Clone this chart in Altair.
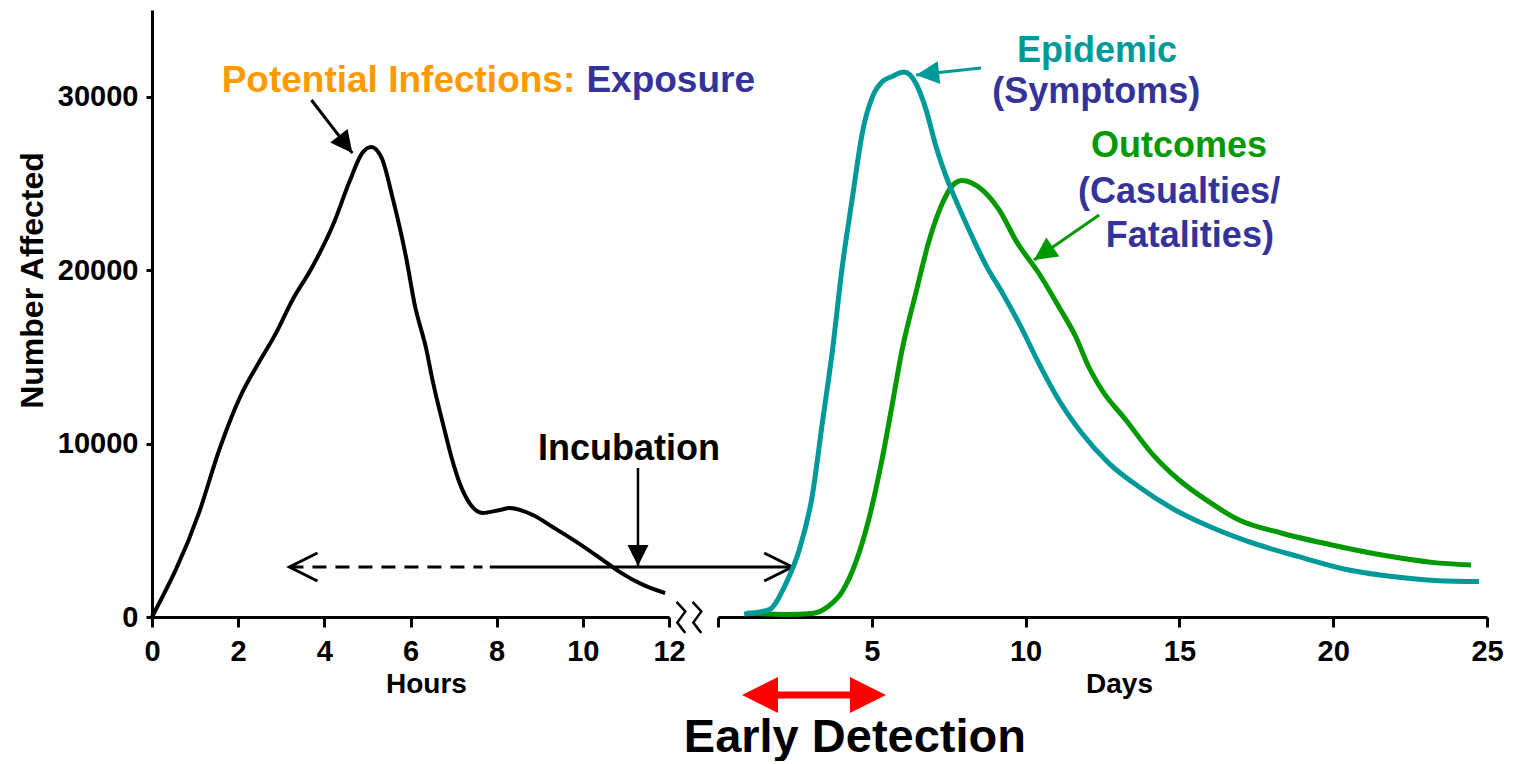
import altair as alt
import pandas as pd

FONT = "Liberation Sans, Arial, sans-serif"
TEAL = "#009999"
GREEN = "#009900"
NAVY = "#333399"
ORANGE = "#FF9900"
RED = "#FF0000"
BLACK = "#000000"

# ---------------- data ----------------
hours = [0, 1.09, 1.56, 2.09, 2.42, 2.88, 3.26, 3.72, 4.23, 4.58, 4.88, 5.09, 5.33, 5.58,
         5.91, 6.09, 6.37, 6.51, 6.79, 6.95, 7.14, 7.37, 7.67, 8.07, 8.3, 8.84, 9.3, 9.86,
         10.4, 10.86, 11.4, 11.91]
exposure = [0, 6000, 9630, 12920, 14420, 16380, 18280, 20180, 22780, 25080, 26750, 27100,
            26470, 24220, 20580, 18100, 15400, 13670, 10780, 9230, 7730, 6570, 6000, 6170,
            6280, 5880, 5190, 4320, 3400, 2590, 1850, 1380]

epi_days = [0.85, 1.66, 2.2, 2.63, 3.06, 3.39, 3.72, 4.04, 4.37, 4.7, 5.07, 5.33, 5.66, 6.05,
            6.44, 6.76, 7.08, 7.4, 7.84, 8.27, 8.7, 9.24, 9.79, 10.43, 11.08, 11.83, 12.71,
            13.68, 14.76, 15.87, 17.25, 18.88, 20.51, 22.14, 23.44, 24.74]
epidemic = [170, 420, 1900, 3800, 6950, 11160, 15370, 20200, 24200, 28000, 30200, 30850,
            31170, 31420, 30750, 29270, 27170, 25480, 23590, 21900, 20320, 18700, 16930,
            14630, 12510, 10590, 8860, 7510, 6270, 5300, 4340, 3480, 2710, 2290, 2090, 2040]

out_days = [0.95, 2.2, 3.06, 3.6, 4.04, 4.48, 4.91, 5.33, 5.66, 5.98, 6.44, 6.86, 7.28, 7.61,
            7.93, 8.58, 9.14, 9.72, 10.43, 11.08, 11.63, 12.05, 12.48, 13.26, 14.1, 14.99,
            15.87, 16.94, 18.34, 19.96, 21.59, 23.21, 24.48]
outcomes = [230, 150, 200, 630, 1470, 3160, 5690, 9060, 12210, 15370, 18740, 21690, 23800,
            24850, 25170, 24640, 23470, 21600, 19820, 17890, 16160, 14430, 13090, 11360, 9440,
            7900, 6750, 5590, 4830, 4150, 3570, 3150, 3000]

hour_ticks = [0, 2, 4, 6, 8, 10, 12]
day_ticks = [0, 5, 10, 15, 20, 25]
y_ticks = [0, 10000, 20000, 30000]

# annotation texts (left panel: hours / right panel: days)
lt_label = ["Potential Infections:", "Exposure", "Incubation"]
lt_x = [5.72, 12.04, 11.07]
lt_y = [30270, 30270, 9050]
lt_color = [ORANGE, NAVY, BLACK]
lt_size = [37, 37, 36]

rt_label = ["Epidemic", "(Symptoms)", "Outcomes", "(Casualties/", "Fatalities)", "Early Detection"]
rt_x = [12.32, 12.3, 14.99, 14.99, 15.34, 4.45]
rt_y = [32000, 29640, 26520, 23900, 21330, -7784]
rt_color = [TEAL, NAVY, GREEN, NAVY, NAVY, BLACK]
rt_size = [36, 36, 36, 36, 36, 47]

# arrows: shafts
l_rule_x = [3.70, 11.28, 7.84]
l_rule_x2 = [4.65, 11.28, 14.86]
l_rule_y = [29810, 8591, 2883]
l_rule_y2 = [26750, 2940, 2883]
l_rule_w = [3, 2.5, 3]
dash_x, dash_x2, dash_y = [3.19], [7.67], [2883]

r_rule_x = [8.55, 12.39, 1.9]
r_rule_x2 = [6.44, 10.27, 4.35]
r_rule_y = [31650, 23180, -4498]
r_rule_y2 = [31250, 20580, -4498]
r_rule_c = [TEAL, GREEN, RED]
r_rule_w = [3, 3, 7]

# arrow heads
l_head_x = [4.65, 11.28]
l_head_y = [26750, 2940]
l_head_a = [142.3, 180]
l_head_s = [1936, 1764]
chev_x = [3.19, 14.86]
chev_y = [2883, 2883]
chev_a = [0, 180]

r_head_x = [6.44, 10.27, 0.78, 5.46]
r_head_y = [31250, 20580, -4498, -4498]
r_head_a = [263.9, 235.3, 270, 90]
r_head_s = [2116, 2116, 5184, 5184]
r_head_c = [TEAL, GREEN, RED, RED]

break_x, break_y = [12.49], [0]

TRI = "M 0 0 L 0.5 1 L -0.5 1 Z"
CHEV = "M 1 -0.5 L 0 0 L 1 0.5"
SQUIG = "M -0.85 -0.95 L -0.3 -0.35 L -0.8 0.35 L -0.3 1 M 0.15 -0.95 L 0.7 -0.35 L 0.2 0.35 L 0.7 1"

# ---------------- scales / axes ----------------
ysc = alt.Scale(domain=[0, 35000], nice=False, zero=False)
hsc = alt.Scale(domain=[0, 12], nice=False, zero=False)
dsc = alt.Scale(domain=[0, 25], nice=False, zero=False)

hours_axis = alt.Axis(title="Hours", values=hour_ticks, grid=False, labelFlush=False,
                      labelOverlap=False, tickSize=10, tickWidth=3, domainWidth=3,
                      labelPadding=10, titlePadding=4, titleX=274, labelFontSize=29,
                      titleFontSize=28)
days_axis = alt.Axis(title="Days", values=day_ticks, grid=False, labelFlush=False,
                     labelOverlap=False, tickSize=10, tickWidth=3, domainWidth=3,
                     labelPadding=10, titlePadding=4, titleX=401, labelFontSize=29,
                     titleFontSize=28,
                     labelExpr="datum.value == 0 ? '' : datum.label")
y_axis = alt.Axis(title="Number Affected", values=y_ticks, format="d", grid=False,
                  tickSize=6, tickWidth=3, domainWidth=3, labelPadding=8,
                  titlePadding=8, titleY=270, labelFontSize=29, titleFontSize=32)

HX = alt.X("x:Q", scale=hsc, axis=hours_axis)
HX2 = alt.X2("x2:Q")
LY = alt.Y("y:Q", scale=ysc, axis=y_axis)
LY2 = alt.Y2("y2:Q")
DX = alt.X("x:Q", scale=dsc, axis=days_axis)
RY = alt.Y("y:Q", scale=ysc, axis=None)

# ---------------- left panel ----------------
left_line = alt.Chart(pd.DataFrame({"x": hours, "y": exposure})).mark_line(
    color=BLACK, strokeWidth=4, interpolate="monotone").encode(x=HX, y=LY)

left_text = alt.Chart(pd.DataFrame({"x": lt_x, "y": lt_y, "t": lt_label, "c": lt_color,
                                    "fs": lt_size})).mark_text(
    font=FONT, fontWeight="bold", align="center", baseline="alphabetic").encode(
    x=HX, y=LY, text="t:N", color=alt.Color("c:N", scale=None),
    size=alt.Size("fs:Q", scale=None))

left_rules = alt.Chart(pd.DataFrame({"x": l_rule_x, "x2": l_rule_x2, "y": l_rule_y,
                                     "y2": l_rule_y2, "w": l_rule_w})).mark_rule(
    color=BLACK).encode(x=HX, x2=HX2, y=LY, y2=LY2,
                        strokeWidth=alt.StrokeWidth("w:Q", scale=None))

left_dash = alt.Chart(pd.DataFrame({"x": dash_x, "x2": dash_x2, "y": dash_y})).mark_rule(
    color=BLACK, strokeWidth=3, strokeDash=[14, 9]).encode(x=HX, x2=HX2, y=LY)

left_heads = alt.Chart(pd.DataFrame({"x": l_head_x, "y": l_head_y, "a": l_head_a,
                                     "s": l_head_s})).mark_point(
    shape=TRI, filled=True, color=BLACK, opacity=1).encode(
    x=HX, y=LY, angle=alt.Angle("a:Q", scale=None), size=alt.Size("s:Q", scale=None))

left_chev = alt.Chart(pd.DataFrame({"x": chev_x, "y": chev_y, "a": chev_a})).mark_point(
    shape=CHEV, filled=False, color=BLACK, opacity=1, strokeWidth=3, size=3136).encode(
    x=HX, y=LY, angle=alt.Angle("a:Q", scale=None))

left_break = alt.Chart(pd.DataFrame({"x": break_x, "y": break_y})).mark_point(
    shape=SQUIG, filled=False, color=BLACK, opacity=1, strokeWidth=2.5, size=1024).encode(
    x=HX, y=LY)

left = alt.layer(left_line, left_dash, left_rules, left_heads, left_chev, left_break,
                 left_text).properties(width=517, height=607)

# ---------------- right panel ----------------
epi_line = alt.Chart(pd.DataFrame({"x": epi_days, "y": epidemic})).mark_line(
    color=TEAL, strokeWidth=5, interpolate="monotone").encode(x=DX, y=RY)
out_line = alt.Chart(pd.DataFrame({"x": out_days, "y": outcomes})).mark_line(
    color=GREEN, strokeWidth=5, interpolate="monotone").encode(x=DX, y=RY)

right_text = alt.Chart(pd.DataFrame({"x": rt_x, "y": rt_y, "t": rt_label, "c": rt_color,
                                     "fs": rt_size})).mark_text(
    font=FONT, fontWeight="bold", align="center", baseline="alphabetic").encode(
    x=DX, y=RY, text="t:N", color=alt.Color("c:N", scale=None),
    size=alt.Size("fs:Q", scale=None))

right_rules = alt.Chart(pd.DataFrame({"x": r_rule_x, "x2": r_rule_x2, "y": r_rule_y,
                                      "y2": r_rule_y2, "c": r_rule_c, "w": r_rule_w})).mark_rule().encode(
    x=DX, x2=alt.X2("x2:Q"), y=RY, y2=alt.Y2("y2:Q"), color=alt.Color("c:N", scale=None),
    strokeWidth=alt.StrokeWidth("w:Q", scale=None))

right_heads = alt.Chart(pd.DataFrame({"x": r_head_x, "y": r_head_y, "a": r_head_a,
                                      "s": r_head_s, "c": r_head_c})).mark_point(
    shape=TRI, filled=True, opacity=1).encode(
    x=DX, y=RY, angle=alt.Angle("a:Q", scale=None), size=alt.Size("s:Q", scale=None),
    color=alt.Color("c:N", scale=None))

right = alt.layer(out_line, epi_line, right_rules, right_heads, right_text).properties(
    width=769, height=607)

chart = alt.hconcat(left, right, spacing=49, bounds="flush").properties(
    padding={"left": 8, "top": 2, "right": 5, "bottom": 0}
).configure_view(stroke=None).configure_axis(
    labelFont=FONT, titleFont=FONT, labelFontWeight="bold", titleFontWeight="bold",
    labelColor=BLACK, titleColor=BLACK, domainColor=BLACK, tickColor=BLACK
)

chart.save("out.html", embed_options={"renderer": "svg", "actions": False})
